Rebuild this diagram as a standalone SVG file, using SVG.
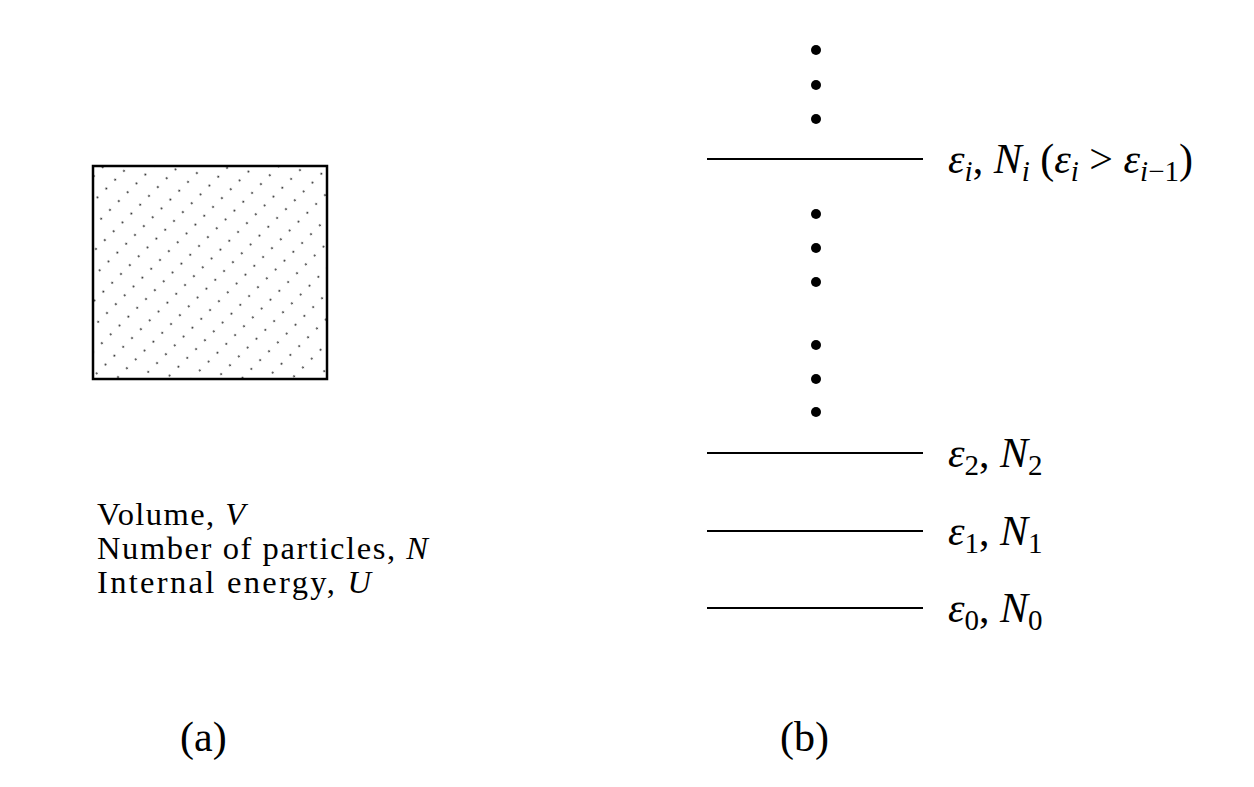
<svg xmlns="http://www.w3.org/2000/svg" width="1254" height="787" viewBox="0 0 1254 787">
<style>
text{font-family:"Liberation Serif","Times New Roman",serif;fill:#000}
.body{font-size:32.5px}
.math{font-size:42px}
.cap{font-size:42px}
.it{font-style:italic}
.sub{font-size:29px}
.lvl{stroke:#000;stroke-width:2}
.dot{fill:#000}
</style>
<defs>
<pattern id="stip" patternUnits="userSpaceOnUse" width="12.5" height="17.7" patternTransform="translate(92,165) rotate(-45)">
<circle cx="6" cy="9" r="1" fill="#222"/>
</pattern>
</defs>
<rect width="1254" height="787" fill="#fff"/>
<g id="box">
<rect x="93" y="166" width="234" height="213" fill="url(#stip)" stroke="#000" stroke-width="2.5"/>
</g>
<g id="props">
<text class="body" x="97" y="525" textLength="148" lengthAdjust="spacing">Volume, <tspan class="it">V</tspan></text>
<text class="body" x="97" y="559" textLength="331" lengthAdjust="spacing">Number of particles, <tspan class="it">N</tspan></text>
<text class="body" x="97" y="593" textLength="274" lengthAdjust="spacing">Internal energy, <tspan class="it">U</tspan></text>
</g>
<g id="levels">
<line class="lvl" x1="707" y1="159" x2="923" y2="159"/>
<line class="lvl" x1="707" y1="453" x2="923" y2="453"/>
<line class="lvl" x1="707" y1="531" x2="923" y2="531"/>
<line class="lvl" x1="707" y1="608" x2="923" y2="608" stroke-width="1.6"/>
</g>
<g id="dots">
<circle class="dot" cx="816" cy="50" r="5"/>
<circle class="dot" cx="816" cy="85" r="5"/>
<circle class="dot" cx="816" cy="119" r="5"/>
<circle class="dot" cx="816" cy="214" r="5"/>
<circle class="dot" cx="816" cy="248" r="5"/>
<circle class="dot" cx="816" cy="282" r="5"/>
<circle class="dot" cx="816" cy="345" r="5"/>
<circle class="dot" cx="816" cy="379" r="5"/>
<circle class="dot" cx="816" cy="412" r="5"/>
</g>
<g id="labels">
<text class="math" x="948" y="173"><tspan class="it">ε</tspan><tspan class="it sub" dy="8">i</tspan><tspan dy="-8">, </tspan><tspan class="it">N</tspan><tspan class="it sub" dy="8">i</tspan><tspan dy="-8"> (</tspan><tspan class="it">ε</tspan><tspan class="it sub" dy="8">i</tspan><tspan dy="-8"> &gt; </tspan><tspan class="it">ε</tspan><tspan class="it sub" dy="8">i</tspan><tspan class="sub">−1</tspan><tspan dy="-8">)</tspan></text>
<text class="math" x="948" y="467"><tspan class="it">ε</tspan><tspan class="sub" dy="8">2</tspan><tspan dy="-8">, </tspan><tspan class="it">N</tspan><tspan class="sub" dy="8">2</tspan></text>
<text class="math" x="948" y="545"><tspan class="it">ε</tspan><tspan class="sub" dy="8">1</tspan><tspan dy="-8">, </tspan><tspan class="it">N</tspan><tspan class="sub" dy="8">1</tspan></text>
<text class="math" x="948" y="622"><tspan class="it">ε</tspan><tspan class="sub" dy="8">0</tspan><tspan dy="-8">, </tspan><tspan class="it">N</tspan><tspan class="sub" dy="8">0</tspan></text>
</g>
<g id="captions">
<text class="cap" x="180" y="751">(a)</text>
<text class="cap" x="780" y="751">(b)</text>
</g>
</svg>
